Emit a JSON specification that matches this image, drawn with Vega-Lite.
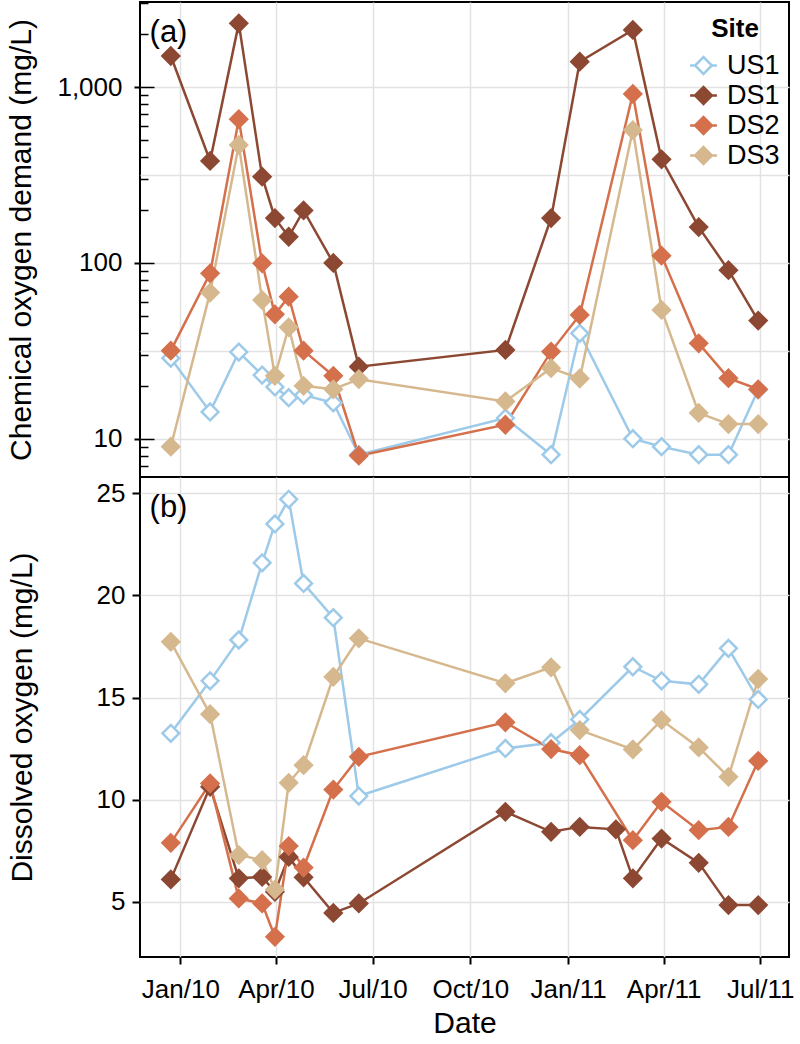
{
  "$schema": "https://vega.github.io/schema/vega-lite/v6.json",
  "padding": {"left": 5, "top": 1, "right": 2, "bottom": 2},
  "spacing": 0,
  "bounds": "flush",
  "resolve": {"scale": {"stroke": "independent", "fill": "independent"}},
  "config": {
    "font": "Liberation Sans",
    "view": {"stroke": "black", "strokeWidth": 2},
    "axis": {
      "labelFont": "Liberation Sans", "titleFont": "Liberation Sans",
      "labelColor": "black", "titleColor": "black", "tickColor": "black",
      "titleFontWeight": "normal", "labelFontSize": 26, "titleFontSize": 30,
      "titleLimit": 1000,
      "gridColor": "#e2e2e2", "gridWidth": 1.5, "domain": false
    }
  },
  "vconcat": [
    {
      "width": 649,
      "height": 475,
      "resolve": {"axis": {"y": "independent"}},
      "data": {
        "format": {"parse": {"date": "date:'%Y-%m-%d'"}},
        "values": [
          {"site": "US1", "date": "2009-12-23", "value": 28.7},
          {"site": "US1", "date": "2010-01-29", "value": 14.2},
          {"site": "US1", "date": "2010-02-25", "value": 31.1},
          {"site": "US1", "date": "2010-03-19", "value": 23},
          {"site": "US1", "date": "2010-03-31", "value": 19.7},
          {"site": "US1", "date": "2010-04-13", "value": 17.1},
          {"site": "US1", "date": "2010-04-27", "value": 17.7},
          {"site": "US1", "date": "2010-05-25", "value": 16},
          {"site": "US1", "date": "2010-06-18", "value": 8.1},
          {"site": "US1", "date": "2010-11-03", "value": 13.1},
          {"site": "US1", "date": "2010-12-16", "value": 8.1},
          {"site": "US1", "date": "2011-01-12", "value": 39.8},
          {"site": "US1", "date": "2011-03-03", "value": 10},
          {"site": "US1", "date": "2011-03-30", "value": 9.0},
          {"site": "US1", "date": "2011-05-04", "value": 8.1},
          {"site": "US1", "date": "2011-06-01", "value": 8.1},
          {"site": "US1", "date": "2011-06-29", "value": 19},
          {"site": "DS1", "date": "2009-12-23", "value": 1507},
          {"site": "DS1", "date": "2010-01-29", "value": 381},
          {"site": "DS1", "date": "2010-02-25", "value": 2311},
          {"site": "DS1", "date": "2010-03-19", "value": 310},
          {"site": "DS1", "date": "2010-03-31", "value": 180},
          {"site": "DS1", "date": "2010-04-13", "value": 141},
          {"site": "DS1", "date": "2010-04-27", "value": 199},
          {"site": "DS1", "date": "2010-05-25", "value": 100},
          {"site": "DS1", "date": "2010-06-18", "value": 25.7},
          {"site": "DS1", "date": "2010-11-03", "value": 32},
          {"site": "DS1", "date": "2010-12-16", "value": 180},
          {"site": "DS1", "date": "2011-01-12", "value": 1399},
          {"site": "DS1", "date": "2011-03-03", "value": 2119},
          {"site": "DS1", "date": "2011-03-30", "value": 389},
          {"site": "DS1", "date": "2011-05-04", "value": 160},
          {"site": "DS1", "date": "2011-06-01", "value": 91},
          {"site": "DS1", "date": "2011-06-29", "value": 47},
          {"site": "DS2", "date": "2009-12-23", "value": 31.7},
          {"site": "DS2", "date": "2010-01-29", "value": 87.3},
          {"site": "DS2", "date": "2010-02-25", "value": 658},
          {"site": "DS2", "date": "2010-03-19", "value": 99.5},
          {"site": "DS2", "date": "2010-03-31", "value": 51},
          {"site": "DS2", "date": "2010-04-13", "value": 64.3},
          {"site": "DS2", "date": "2010-04-27", "value": 31.7},
          {"site": "DS2", "date": "2010-05-25", "value": 22.8},
          {"site": "DS2", "date": "2010-06-18", "value": 8.0},
          {"site": "DS2", "date": "2010-11-03", "value": 12},
          {"site": "DS2", "date": "2010-12-16", "value": 31.3},
          {"site": "DS2", "date": "2011-01-12", "value": 50.6},
          {"site": "DS2", "date": "2011-03-03", "value": 916},
          {"site": "DS2", "date": "2011-03-30", "value": 110},
          {"site": "DS2", "date": "2011-05-04", "value": 34.9},
          {"site": "DS2", "date": "2011-06-01", "value": 22.1},
          {"site": "DS2", "date": "2011-06-29", "value": 19.1},
          {"site": "DS3", "date": "2009-12-23", "value": 9.0},
          {"site": "DS3", "date": "2010-01-29", "value": 67.8},
          {"site": "DS3", "date": "2010-02-25", "value": 470},
          {"site": "DS3", "date": "2010-03-19", "value": 61.5},
          {"site": "DS3", "date": "2010-03-31", "value": 22.8},
          {"site": "DS3", "date": "2010-04-13", "value": 43},
          {"site": "DS3", "date": "2010-04-27", "value": 20},
          {"site": "DS3", "date": "2010-05-25", "value": 19.1},
          {"site": "DS3", "date": "2010-06-18", "value": 21.8},
          {"site": "DS3", "date": "2010-11-03", "value": 16.3},
          {"site": "DS3", "date": "2010-12-16", "value": 25.2},
          {"site": "DS3", "date": "2011-01-12", "value": 22},
          {"site": "DS3", "date": "2011-03-03", "value": 571},
          {"site": "DS3", "date": "2011-03-30", "value": 54},
          {"site": "DS3", "date": "2011-05-04", "value": 14},
          {"site": "DS3", "date": "2011-06-01", "value": 12.1},
          {"site": "DS3", "date": "2011-06-29", "value": 12.1}
        ]
      },
      "encoding": {
        "x": {
          "field": "date", "type": "temporal",
          "scale": {"domain": [{"year": 2009, "month": 11, "date": 24}, {"year": 2011, "month": 7, "date": 28}]},
          "axis": {
            "values": [{"year": 2010, "month": 1, "date": 1}, {"year": 2010, "month": 4, "date": 1}, {"year": 2010, "month": 7, "date": 1}, {"year": 2010, "month": 10, "date": 1}, {"year": 2011, "month": 1, "date": 1}, {"year": 2011, "month": 4, "date": 1}, {"year": 2011, "month": 7, "date": 1}],
            "labels": false, "ticks": false, "grid": true, "title": null
          }
        }
      },
      "layer": [
        {
          "mark": {"type": "line", "strokeWidth": 2.5},
          "encoding": {
            "y": {
              "field": "value", "type": "quantitative",
              "scale": {"type": "log", "domain": [6.05, 3058]},
              "axis": {"orient": "left", "values": [10, 100, 1000], "format": ",", "tickSize": 6, "tickWidth": 2, "labelPadding": 12, "grid": false, "title": "Chemical oxygen demand (mg/L)", "titlePadding": 20, "titleLimit": 1000}
            },
            "stroke": {
              "field": "site", "type": "nominal",
              "scale": {"domain": ["US1", "DS1", "DS2", "DS3"], "range": ["#9ecae9", "#8c4832", "#d5704c", "#d6b88e"]},
              "legend": {
                "title": "Site", "orient": "none", "legendX": 550, "legendY": 14,
                "symbolType": "M-1.6,0L-1,0M1,0L1.6,0M-1,0L0,-1L1,0L0,1Z",
                "symbolSize": 280, "symbolStrokeWidth": 2.5, "symbolOpacity": 1,
                "labelFontSize": 27, "labelFont": "Liberation Sans", "labelColor": "black", "labelOffset": 10,
                "titleFontSize": 26, "titleFont": "Liberation Sans", "titleFontWeight": "bold", "titleColor": "black",
                "titleAnchor": "middle", "titlePadding": 10, "rowPadding": 2, "padding": 0,
                "encode": {"symbols": {"update": {"fill": {"signal": "datum.value === 'US1' ? '#ffffff' : datum.value === 'DS1' ? '#8c4832' : datum.value === 'DS2' ? '#d5704c' : '#d6b88e'"}}}}
              }
            }
          }
        },
        {
          "mark": {"type": "point", "shape": "diamond", "size": 280, "strokeWidth": 2.5, "opacity": 1, "filled": true},
          "encoding": {
            "y": {
              "field": "value", "type": "quantitative",
              "scale": {"type": "log", "domain": [6.05, 3058]},
              "axis": {"orient": "left", "values": [3.1623, 10, 31.623, 100, 316.23, 1000], "grid": true, "ticks": false, "labels": false, "title": null}
            },
            "stroke": {
              "field": "site", "type": "nominal",
              "scale": {"domain": ["US1", "DS1", "DS2", "DS3"], "range": ["#9ecae9", "#8c4832", "#d5704c", "#d6b88e"]},
              "legend": {
                "title": "Site", "orient": "none", "legendX": 550, "legendY": 14,
                "symbolType": "M-1.6,0L-1,0M1,0L1.6,0M-1,0L0,-1L1,0L0,1Z",
                "symbolSize": 280, "symbolStrokeWidth": 2.5, "symbolOpacity": 1,
                "labelFontSize": 27, "labelFont": "Liberation Sans", "labelColor": "black", "labelOffset": 10,
                "titleFontSize": 26, "titleFont": "Liberation Sans", "titleFontWeight": "bold", "titleColor": "black",
                "titleAnchor": "middle", "titlePadding": 10, "rowPadding": 2, "padding": 0,
                "encode": {"symbols": {"update": {"fill": {"signal": "datum.value === 'US1' ? '#ffffff' : datum.value === 'DS1' ? '#8c4832' : datum.value === 'DS2' ? '#d5704c' : '#d6b88e'"}}}}
              }
            },
            "fill": {
              "field": "site", "type": "nominal",
              "scale": {"domain": ["US1", "DS1", "DS2", "DS3"], "range": ["#ffffff", "#8c4832", "#d5704c", "#d6b88e"]},
              "legend": null
            }
          }
        },
        {
          "mark": {"type": "point", "opacity": 0, "size": 1},
          "encoding": {
            "y": {
              "field": "value", "type": "quantitative",
              "scale": {"type": "log", "domain": [6.05, 3058]},
              "axis": {
                "orient": "left", "grid": false, "labels": false, "title": null, "tickWidth": 1.5,
                "values": [7, 8, 9, 10, 20, 30, 40, 50, 60, 70, 80, 90, 100, 200, 300, 400, 500, 600, 700, 800, 900, 1000, 2000, 3000],
                "tickSize": {"condition": {"test": "datum.value === 10 || datum.value === 100 || datum.value === 1000", "value": -14}, "value": -8}
              }
            }
          }
        },
        {
          "data": {
            "format": {"parse": {"date": "date:'%Y-%m-%d'"}},
            "values": [{"label": "(a)", "date": "2009-12-03", "value": 1812}]
          },
          "mark": {"type": "text", "align": "left", "baseline": "alphabetic", "fontSize": 31, "font": "Liberation Sans", "color": "black"},
          "encoding": {
            "y": {"field": "value", "type": "quantitative", "scale": {"type": "log", "domain": [6.05, 3058]}, "axis": null},
            "text": {"field": "label"}
          }
        }
      ]
    },
    {
      "width": 649,
      "height": 480,
      "data": {
        "format": {"parse": {"date": "date:'%Y-%m-%d'"}},
        "values": [
          {"site": "US1", "date": "2009-12-23", "value": 13.25},
          {"site": "US1", "date": "2010-01-29", "value": 15.82},
          {"site": "US1", "date": "2010-02-25", "value": 17.82},
          {"site": "US1", "date": "2010-03-19", "value": 21.6},
          {"site": "US1", "date": "2010-03-31", "value": 23.5},
          {"site": "US1", "date": "2010-04-13", "value": 24.71},
          {"site": "US1", "date": "2010-04-27", "value": 20.59},
          {"site": "US1", "date": "2010-05-25", "value": 18.91},
          {"site": "US1", "date": "2010-06-18", "value": 10.18},
          {"site": "US1", "date": "2010-11-03", "value": 12.51},
          {"site": "US1", "date": "2010-12-16", "value": 12.79},
          {"site": "US1", "date": "2011-01-12", "value": 13.93},
          {"site": "US1", "date": "2011-03-03", "value": 16.51},
          {"site": "US1", "date": "2011-03-30", "value": 15.82},
          {"site": "US1", "date": "2011-05-04", "value": 15.65},
          {"site": "US1", "date": "2011-06-01", "value": 17.41},
          {"site": "US1", "date": "2011-06-29", "value": 14.91},
          {"site": "DS1", "date": "2009-12-23", "value": 6.1},
          {"site": "DS1", "date": "2010-01-29", "value": 10.63},
          {"site": "DS1", "date": "2010-02-25", "value": 6.15},
          {"site": "DS1", "date": "2010-03-19", "value": 6.22},
          {"site": "DS1", "date": "2010-03-31", "value": 5.49},
          {"site": "DS1", "date": "2010-04-13", "value": 7.2},
          {"site": "DS1", "date": "2010-04-27", "value": 6.2},
          {"site": "DS1", "date": "2010-05-25", "value": 4.46},
          {"site": "DS1", "date": "2010-06-18", "value": 4.92},
          {"site": "DS1", "date": "2010-11-03", "value": 9.41},
          {"site": "DS1", "date": "2010-12-16", "value": 8.43},
          {"site": "DS1", "date": "2011-01-12", "value": 8.67},
          {"site": "DS1", "date": "2011-02-15", "value": 8.55},
          {"site": "DS1", "date": "2011-03-03", "value": 6.15},
          {"site": "DS1", "date": "2011-03-30", "value": 8.1},
          {"site": "DS1", "date": "2011-05-04", "value": 6.91},
          {"site": "DS1", "date": "2011-06-01", "value": 4.84},
          {"site": "DS1", "date": "2011-06-29", "value": 4.84},
          {"site": "DS2", "date": "2009-12-23", "value": 7.89},
          {"site": "DS2", "date": "2010-01-29", "value": 10.8},
          {"site": "DS2", "date": "2010-02-25", "value": 5.17},
          {"site": "DS2", "date": "2010-03-19", "value": 4.92},
          {"site": "DS2", "date": "2010-03-31", "value": 3.29},
          {"site": "DS2", "date": "2010-04-13", "value": 7.73},
          {"site": "DS2", "date": "2010-04-27", "value": 6.68},
          {"site": "DS2", "date": "2010-05-25", "value": 10.5},
          {"site": "DS2", "date": "2010-06-18", "value": 12.1},
          {"site": "DS2", "date": "2010-11-03", "value": 13.79},
          {"site": "DS2", "date": "2010-12-16", "value": 12.48},
          {"site": "DS2", "date": "2011-01-12", "value": 12.18},
          {"site": "DS2", "date": "2011-03-03", "value": 8.02},
          {"site": "DS2", "date": "2011-03-30", "value": 9.9},
          {"site": "DS2", "date": "2011-05-04", "value": 8.51},
          {"site": "DS2", "date": "2011-06-01", "value": 8.67},
          {"site": "DS2", "date": "2011-06-29", "value": 11.9},
          {"site": "DS3", "date": "2009-12-23", "value": 17.73},
          {"site": "DS3", "date": "2010-01-29", "value": 14.19},
          {"site": "DS3", "date": "2010-02-25", "value": 7.29},
          {"site": "DS3", "date": "2010-03-19", "value": 7.04},
          {"site": "DS3", "date": "2010-03-31", "value": 5.6},
          {"site": "DS3", "date": "2010-04-13", "value": 10.83},
          {"site": "DS3", "date": "2010-04-27", "value": 11.69},
          {"site": "DS3", "date": "2010-05-25", "value": 16.02},
          {"site": "DS3", "date": "2010-06-18", "value": 17.9},
          {"site": "DS3", "date": "2010-11-03", "value": 15.7},
          {"site": "DS3", "date": "2010-12-16", "value": 16.48},
          {"site": "DS3", "date": "2011-01-12", "value": 13.41},
          {"site": "DS3", "date": "2011-03-03", "value": 12.46},
          {"site": "DS3", "date": "2011-03-30", "value": 13.9},
          {"site": "DS3", "date": "2011-05-04", "value": 12.56},
          {"site": "DS3", "date": "2011-06-01", "value": 11.12},
          {"site": "DS3", "date": "2011-06-29", "value": 15.91}
        ]
      },
      "encoding": {
        "x": {
          "field": "date", "type": "temporal",
          "scale": {"domain": [{"year": 2009, "month": 11, "date": 24}, {"year": 2011, "month": 7, "date": 28}]},
          "axis": {
            "values": [{"year": 2010, "month": 1, "date": 1}, {"year": 2010, "month": 4, "date": 1}, {"year": 2010, "month": 7, "date": 1}, {"year": 2010, "month": 10, "date": 1}, {"year": 2011, "month": 1, "date": 1}, {"year": 2011, "month": 4, "date": 1}, {"year": 2011, "month": 7, "date": 1}],
            "format": "%b/%y", "tickSize": 7, "tickWidth": 2, "labelPadding": 12, "grid": true,
            "title": "Date", "titlePadding": 6
          }
        },
        "y": {
          "field": "value", "type": "quantitative",
          "scale": {"domain": [2.3, 25.8], "nice": false, "zero": false},
          "axis": {"values": [5, 10, 15, 20, 25], "tickSize": 8, "tickWidth": 2, "labelPadding": 7, "grid": true, "title": "Dissolved oxygen (mg/L)", "titlePadding": 59}
        }
      },
      "layer": [
        {
          "mark": {"type": "line", "strokeWidth": 2.5},
          "encoding": {
            "stroke": {
              "field": "site", "type": "nominal",
              "scale": {"domain": ["US1", "DS1", "DS2", "DS3"], "range": ["#9ecae9", "#8c4832", "#d5704c", "#d6b88e"]},
              "legend": null
            }
          }
        },
        {
          "mark": {"type": "point", "shape": "diamond", "size": 280, "strokeWidth": 2.5, "opacity": 1, "filled": true},
          "encoding": {
            "stroke": {
              "field": "site", "type": "nominal",
              "scale": {"domain": ["US1", "DS1", "DS2", "DS3"], "range": ["#9ecae9", "#8c4832", "#d5704c", "#d6b88e"]},
              "legend": null
            },
            "fill": {
              "field": "site", "type": "nominal",
              "scale": {"domain": ["US1", "DS1", "DS2", "DS3"], "range": ["#ffffff", "#8c4832", "#d5704c", "#d6b88e"]},
              "legend": null
            }
          }
        },
        {
          "data": {
            "format": {"parse": {"date": "date:'%Y-%m-%d'"}},
            "values": [{"label": "(b)", "date": "2009-12-03", "value": 23.85}]
          },
          "mark": {"type": "text", "align": "left", "baseline": "alphabetic", "fontSize": 31, "font": "Liberation Sans", "color": "black"},
          "encoding": {
            "text": {"field": "label"}
          }
        }
      ]
    }
  ]
}
